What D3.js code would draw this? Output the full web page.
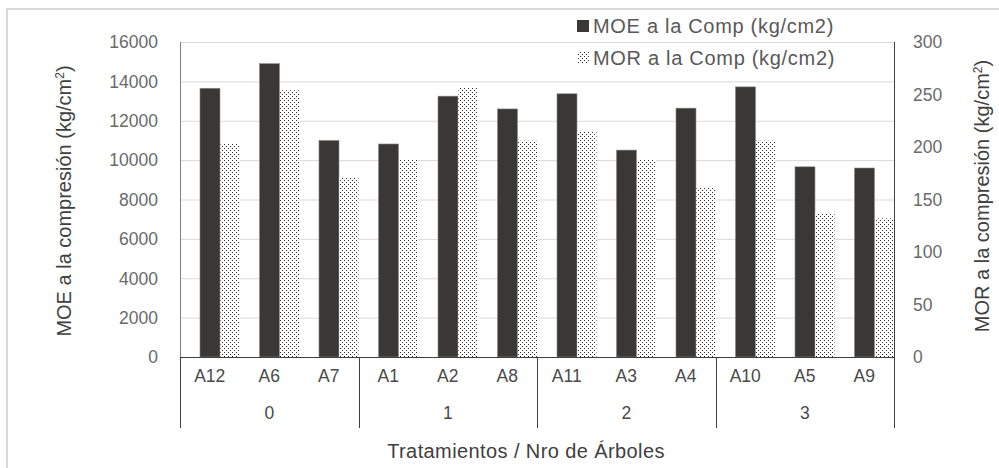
<!DOCTYPE html>
<html>
<head>
<meta charset="utf-8">
<script src="https://cdn.jsdelivr.net/npm/d3@7"></script>
<style>
  body { margin: 0; background: #fff; }
  text { font-family: "Liberation Sans", Arial, sans-serif; }
</style>
</head>
<body>
<div id="chart"></div>
<script>
// data
const groups = ["0", "1", "2", "3"];
const trees = ["A12", "A6", "A7", "A1", "A2", "A8", "A11", "A3", "A4", "A10", "A5", "A9"];
const treeGroup = ["0", "0", "0", "1", "1", "1", "2", "2", "2", "3", "3", "3"];
const moe = [13650, 14900, 11000, 10820, 13250, 12600, 13370, 10510, 12640, 13720, 9660, 9600];
const mor = [203, 254, 171, 188, 257, 206, 215, 188, 162, 206, 137, 132];
const leftTicks = [0, 2000, 4000, 6000, 8000, 10000, 12000, 14000, 16000];
const rightTicks = [0, 50, 100, 150, 200, 250, 300];
const legendLabels = ["MOE a la Comp (kg/cm2)", "MOR a la Comp (kg/cm2)"];

const width = 999, height = 468;
const plot = { left: 180, right: 894, top: 42, bottom: 357 };

const svg = d3.select("#chart").append("svg")
    .attr("width", width)
    .attr("height", height);

// dotted fill for the MOR bars
const defs = svg.append("defs");
const pat = defs.append("pattern")
    .attr("id", "dots")
    .attr("patternUnits", "userSpaceOnUse")
    .attr("width", 4).attr("height", 4);
pat.append("rect").attr("width", 4).attr("height", 4).attr("fill", "#fff");
pat.append("rect").attr("x", 0).attr("y", 0).attr("width", 1).attr("height", 1).attr("fill", "#2a2a2a");
pat.append("rect").attr("x", 2).attr("y", 2).attr("width", 1).attr("height", 1).attr("fill", "#2a2a2a");

// outer chart frame (cut by the window on the right and bottom)
svg.append("rect")
    .attr("x", 7).attr("y", 9)
    .attr("width", 1200).attr("height", 800)
    .attr("fill", "none")
    .attr("stroke", "#d9d9d9")
    .attr("stroke-width", 2);

const x = d3.scaleBand()
    .domain(trees)
    .range([plot.left, plot.right])
    .padding(0);

const yL = d3.scaleLinear().domain([0, 16000]).range([plot.bottom, plot.top]);
const yR = d3.scaleLinear().domain([0, 300]).range([plot.bottom, plot.top]);

// gridlines
svg.append("g")
    .selectAll("line")
    .data(leftTicks.filter(d => d > 0))
    .join("line")
    .attr("x1", plot.left).attr("x2", plot.right)
    .attr("y1", d => yL(d) + 0.5).attr("y2", d => yL(d) + 0.5)
    .attr("stroke", "#d9d9d9")
    .attr("stroke-width", 1);

const bw = x.bandwidth();

// MOE bars (left axis)
svg.append("g")
    .selectAll("rect")
    .data(moe)
    .join("rect")
    .attr("x", (d, i) => x(trees[i]) + bw * 0.336)
    .attr("y", d => yL(d))
    .attr("width", bw * 0.336)
    .attr("height", d => yL(0) - yL(d))
    .attr("fill", "#3a3836")
    .attr("stroke", "#8a8a8a")
    .attr("stroke-width", 0.6);

// MOR bars (right axis)
svg.append("g")
    .selectAll("rect")
    .data(mor)
    .join("rect")
    .attr("x", (d, i) => x(trees[i]) + bw * 0.68)
    .attr("y", d => yR(d))
    .attr("width", bw * 0.32)
    .attr("height", d => yR(0) - yR(d))
    .attr("fill", "url(#dots)");

// axis lines
const axisCol = "#3f3f3f";
svg.append("line")
    .attr("x1", plot.left + 0.5).attr("x2", plot.left + 0.5)
    .attr("y1", plot.top).attr("y2", plot.bottom)
    .attr("stroke", "#7f7f7f");
svg.append("line")
    .attr("x1", plot.right + 0.5).attr("x2", plot.right + 0.5)
    .attr("y1", plot.top).attr("y2", plot.bottom)
    .attr("stroke", axisCol);
svg.append("line")
    .attr("x1", plot.left).attr("x2", plot.right)
    .attr("y1", plot.bottom + 0.5).attr("y2", plot.bottom + 0.5)
    .attr("stroke", axisCol);

// tick labels
svg.append("g")
    .selectAll("text")
    .data(leftTicks)
    .join("text")
    .attr("x", 158)
    .attr("y", d => yL(d))
    .attr("dy", "0.36em")
    .attr("text-anchor", "end")
    .attr("font-size", 17.5)
    .attr("fill", "#6a6a6a")
    .text(d => d);

svg.append("g")
    .selectAll("text")
    .data(rightTicks)
    .join("text")
    .attr("x", 913)
    .attr("y", d => yR(d))
    .attr("dy", "0.36em")
    .attr("text-anchor", "start")
    .attr("font-size", 17.5)
    .attr("fill", "#6a6a6a")
    .text(d => d);

// category labels
svg.append("g")
    .selectAll("text")
    .data(trees)
    .join("text")
    .attr("x", d => x(d) + bw / 2)
    .attr("y", 376)
    .attr("dy", "0.36em")
    .attr("text-anchor", "middle")
    .attr("font-size", 17.5)
    .attr("fill", "#4a4a4a")
    .text(d => d);

// group labels and separators
const groupSpan = groups.map(g => {
    const members = trees.filter((t, i) => treeGroup[i] === g);
    return { g, x0: x(members[0]), x1: x(members[members.length - 1]) + bw };
});

svg.append("g")
    .selectAll("text")
    .data(groupSpan)
    .join("text")
    .attr("x", d => (d.x0 + d.x1) / 2)
    .attr("y", 413)
    .attr("dy", "0.36em")
    .attr("text-anchor", "middle")
    .attr("font-size", 17.5)
    .attr("fill", "#4a4a4a")
    .text(d => d.g);

const seps = [groupSpan[0].x0].concat(groupSpan.map(d => d.x1));
svg.append("g")
    .selectAll("line")
    .data(seps)
    .join("line")
    .attr("x1", d => Math.round(d) + 0.5).attr("x2", d => Math.round(d) + 0.5)
    .attr("y1", plot.bottom).attr("y2", 428)
    .attr("stroke", axisCol);

// axis titles
svg.append("text")
    .attr("transform", "translate(64,201) rotate(-90)")
    .attr("text-anchor", "middle")
    .attr("dy", "0.36em")
    .attr("font-size", 20)
    .attr("fill", "#404040")
    .html('MOE a la compresión (kg/cm<tspan dy="-7" font-size="12">2</tspan><tspan dy="7">)</tspan>');

svg.append("text")
    .attr("transform", "translate(982,196) rotate(-90)")
    .attr("text-anchor", "middle")
    .attr("dy", "0.36em")
    .attr("font-size", 20)
    .attr("fill", "#404040")
    .html('MOR a la compresión (kg/cm<tspan dy="-7" font-size="12">2</tspan><tspan dy="7">)</tspan>');

svg.append("text")
    .attr("x", 526)
    .attr("y", 451)
    .attr("dy", "0.36em")
    .attr("text-anchor", "middle")
    .attr("font-size", 20)
    .attr("letter-spacing", 0.4)
    .attr("fill", "#404040")
    .text("Tratamientos / Nro de Árboles");

// legend
const legend = svg.append("g");
legend.append("rect")
    .attr("x", 577).attr("y", 20).attr("width", 12).attr("height", 12)
    .attr("fill", "#3a3836");
legend.append("rect")
    .attr("x", 578).attr("y", 52).attr("width", 11).attr("height", 11)
    .attr("fill", "url(#dots)");
legend.selectAll("text.lg")
    .data(legendLabels)
    .join("text")
    .attr("class", "lg")
    .attr("x", 593)
    .attr("y", (d, i) => 26 + i * 32)
    .attr("dy", "0.36em")
    .attr("font-size", 20)
    .attr("letter-spacing", 0.7)
    .attr("fill", "#595959")
    .text(d => d);
</script>
</body>
</html>
